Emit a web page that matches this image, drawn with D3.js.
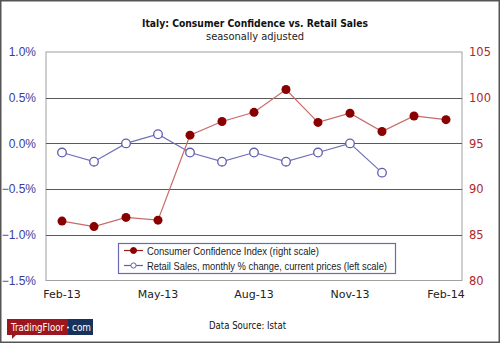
<!DOCTYPE html>
<html><head><meta charset="utf-8">
<script src="https://cdn.jsdelivr.net/npm/d3@7"></script>
<style>
body{margin:0;padding:0;background:#fff;}
svg{display:block;}
</style></head>
<body>
<svg id="chart" width="500" height="343"></svg>
<script>
const months = ["Feb-13","Mar-13","Apr-13","May-13","Jun-13","Jul-13","Aug-13","Sep-13","Oct-13","Nov-13","Dec-13","Jan-14","Feb-14"];
const xTickLabels = ["Feb-13","May-13","Aug-13","Nov-13","Feb-14"];
const confidence = [86.5,85.9,86.9,86.6,95.9,97.4,98.4,100.9,97.3,98.3,96.3,98.0,97.6];
const retail = [-0.1,-0.2,0.0,0.1,-0.1,-0.2,-0.1,-0.2,-0.1,0.0,-0.32];
const leftTicks = [1.0,0.5,0.0,-0.5,-1.0,-1.5];
const rightTicks = [105,100,95,90,85,80];
const gridTicks = [0.5,0.0,-0.5,-1.0];

const svg = d3.select("#chart");
const W=500,H=343;
const m = {l:46, r:462, t:52, b:280.5};

svg.append("rect").attr("x",0.75).attr("y",0.75).attr("width",W-1.5).attr("height",H-1.5)
  .attr("fill","#fff").attr("stroke","#555").attr("stroke-width",1.5);

const x = d3.scaleBand().domain(months).range([m.l,m.r]);
const xc = d => x(d)+x.bandwidth()/2;
const yL = d3.scaleLinear().domain([-1.5,1.0]).range([m.b,m.t]);
const yR = d3.scaleLinear().domain([80,105]).range([m.b,m.t]);

// plot area frame
svg.append("rect").attr("x",m.l).attr("y",m.t).attr("width",m.r-m.l).attr("height",m.b-m.t)
  .attr("fill","#fff").attr("stroke","#a0a0a0").attr("stroke-width",1);

// gridlines
svg.append("g").selectAll("line").data(gridTicks).join("line")
  .attr("x1",m.l).attr("x2",m.r)
  .attr("y1",d=>Math.round(yL(d))+0.5).attr("y2",d=>Math.round(yL(d))+0.5)
  .attr("stroke","#5a5a5a").attr("stroke-width",1);

// left axis
const leftAxis = d3.axisLeft(yL).tickValues(leftTicks).tickFormat(d=>d3.format(".1f")(d)+"%").tickSize(0).tickPadding(10);
const gl = svg.append("g").attr("transform",`translate(${m.l},0)`).call(leftAxis);
gl.select(".domain").remove();
gl.selectAll("text").attr("fill","#3c3c9c").attr("font-family","'Liberation Sans',Arial,sans-serif").attr("font-size",12);

// right axis
const rightAxis = d3.axisRight(yR).tickValues(rightTicks).tickSize(0).tickPadding(7);
const gr = svg.append("g").attr("transform",`translate(${m.r},0)`).call(rightAxis);
gr.select(".domain").remove();
gr.selectAll("text").attr("fill","#b02828").attr("font-family","'DejaVu Sans',Verdana,sans-serif").attr("font-size",11.5);

// bottom axis
const bottomAxis = d3.axisBottom(x).tickValues(xTickLabels).tickSize(0).tickPadding(10);
const gb = svg.append("g").attr("transform",`translate(0,${m.b})`).call(bottomAxis);
gb.select(".domain").remove();
gb.selectAll("text").attr("fill","#222").attr("font-family","'DejaVu Sans',Verdana,sans-serif").attr("font-size",11);

// retail sales line
const lineL = d3.line().x((d,i)=>xc(months[i])).y(d=>yL(d));
svg.append("path").datum(retail).attr("d",lineL).attr("fill","none").attr("stroke","#6f6fb8").attr("stroke-width",1.2);
svg.append("g").selectAll("circle").data(retail).join("circle")
  .attr("cx",(d,i)=>xc(months[i])).attr("cy",d=>yL(d)).attr("r",4.3)
  .attr("fill","#fff").attr("stroke","#5f5fb0").attr("stroke-width",1.3);

// confidence line
const lineR = d3.line().x((d,i)=>xc(months[i])).y(d=>yR(d));
svg.append("path").datum(confidence).attr("d",lineR).attr("fill","none").attr("stroke","#c86a6a").attr("stroke-width",1.2);
svg.append("g").selectAll("circle").data(confidence).join("circle")
  .attr("cx",(d,i)=>xc(months[i])).attr("cy",d=>yR(d)).attr("r",4.5)
  .attr("fill","#8a0000");

// legend
const lg = svg.append("g");
lg.append("rect").attr("x",118.5).attr("y",243.5).attr("width",277).attr("height",30)
  .attr("fill","#fff").attr("stroke","#6a6ab4").attr("stroke-width",1.2);
const legendItems = [
  {label:"Consumer Confidence Index (right scale)", len:172, line:"#a01818", fill:"#8a0000", stroke:"#8a0000", r:3},
  {label:"Retail Sales, monthly % change, current prices (left scale)", len:240, line:"#5f5fb0", fill:"#fff", stroke:"#5f5fb0", r:2.6}
];
legendItems.forEach((it,i)=>{
  const yy = 250.5 + i*15;
  lg.append("line").attr("x1",124).attr("x2",143).attr("y1",yy).attr("y2",yy).attr("stroke",it.line).attr("stroke-width",1.2);
  lg.append("circle").attr("cx",133.5).attr("cy",yy).attr("r",it.r).attr("fill",it.fill).attr("stroke",it.stroke).attr("stroke-width",1);
  lg.append("text").attr("x",147).attr("y",yy+4).text(it.label)
    .attr("font-family","'Liberation Sans',Arial,sans-serif").attr("font-size",10.5).attr("fill","#222")
    .attr("textLength",it.len).attr("lengthAdjust","spacingAndGlyphs");
});

// title
svg.append("text").attr("x",255).attr("y",27).attr("text-anchor","middle")
  .attr("font-family","'DejaVu Sans',Verdana,sans-serif").attr("font-weight","bold").attr("font-size",11)
  .attr("fill","#111").attr("textLength",226).attr("lengthAdjust","spacingAndGlyphs")
  .text("Italy:  Consumer Confidence vs. Retail Sales");
svg.append("text").attr("x",255).attr("y",40).attr("text-anchor","middle")
  .attr("font-family","'DejaVu Sans',Verdana,sans-serif").attr("font-size",11)
  .attr("fill","#222").attr("textLength",98).attr("lengthAdjust","spacingAndGlyphs")
  .text("seasonally  adjusted");

// data source
svg.append("text").attr("x",209).attr("y",329)
  .attr("font-family","'DejaVu Sans',Verdana,sans-serif").attr("font-size",10)
  .attr("fill","#111").attr("textLength",77).attr("lengthAdjust","spacingAndGlyphs")
  .text("Data Source:  Istat");

// logo
const logo = svg.append("g");
logo.append("path").attr("d","M12,334 L12,339 L17,334 Z").attr("fill","#9c1620");
logo.append("rect").attr("x",7).attr("y",319).attr("width",61).attr("height",16).attr("fill","#9c1620");
logo.append("rect").attr("x",68).attr("y",319).attr("width",25).attr("height",16).attr("fill","#17325c");
logo.append("text").attr("x",11).attr("y",331).text("TradingFloor")
  .attr("font-family","'DejaVu Sans',Verdana,sans-serif").attr("font-size",10).attr("fill","#fff")
  .attr("textLength",53).attr("lengthAdjust","spacingAndGlyphs");
logo.append("circle").attr("cx",68).attr("cy",327.5).attr("r",1).attr("fill","#fff");
logo.append("text").attr("x",72).attr("y",331).text("com")
  .attr("font-family","'DejaVu Sans',Verdana,sans-serif").attr("font-size",10).attr("fill","#fff")
  .attr("textLength",19).attr("lengthAdjust","spacingAndGlyphs");
</script>
</body></html>
